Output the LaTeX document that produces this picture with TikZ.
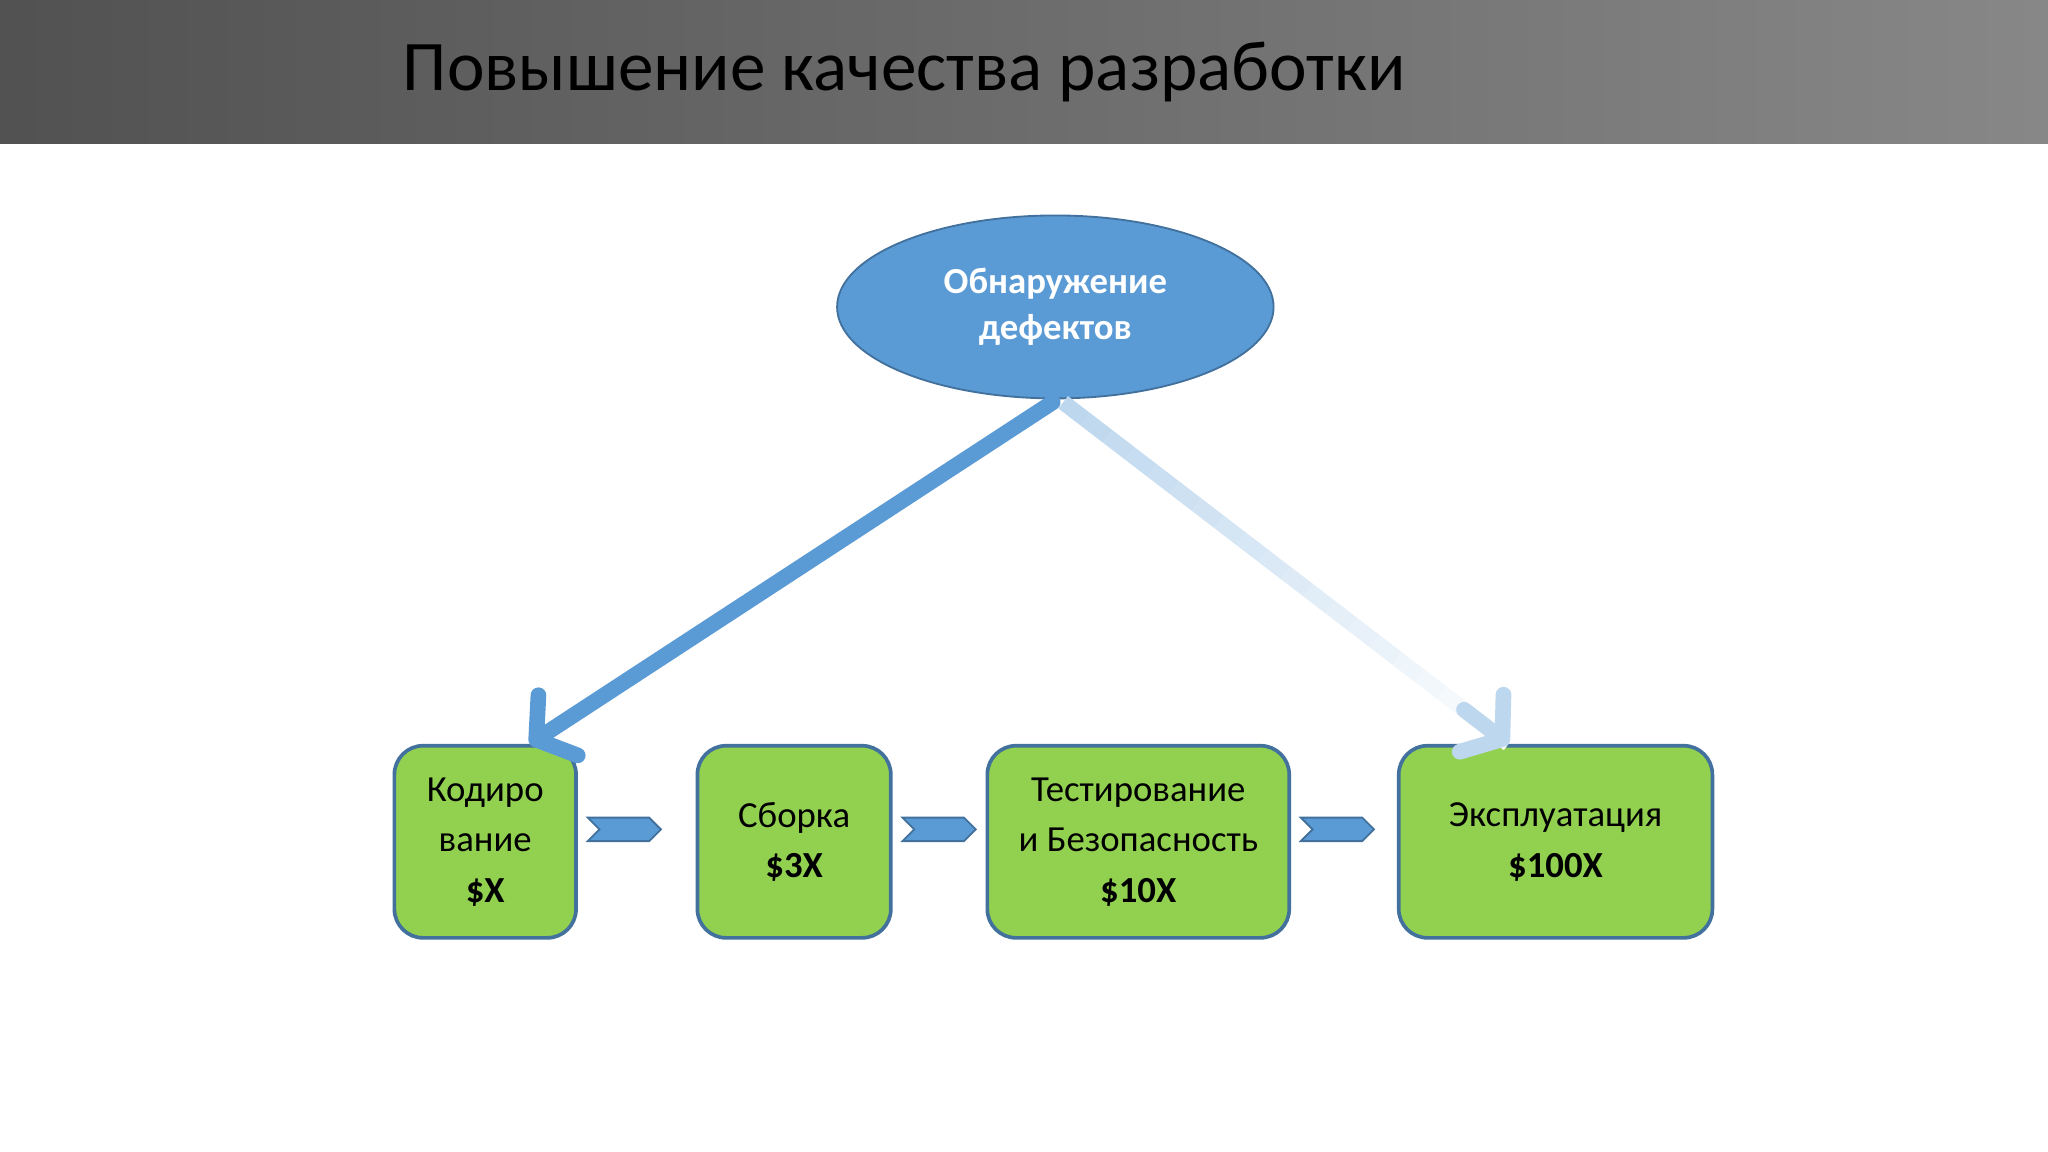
\documentclass[tikz,border=0pt]{standalone}
\usepackage{fontspec}
\setmainfont{Carlito}
\usetikzlibrary{arrows.meta,calc,positioning,shapes.symbols,shapes.geometric}
\definecolor{bluefill}{HTML}{5B9BD5}
\definecolor{blueline}{HTML}{41719C}
\definecolor{greenfill}{HTML}{92D050}
\definecolor{lightblue}{HTML}{BDD7EE}
\tikzset{
    stage/.style={draw=blueline, fill=greenfill, rounded corners=0.22cm, line width=0.8pt,
        minimum height=1.47cm, align=center, font=\fontsize{8}{11}\selectfont, inner sep=1pt},
    chev/.style={signal, signal from=west, signal to=east, draw=blueline, fill=bluefill,
        minimum width=0.56cm, minimum height=0.18cm, inner sep=0pt, line width=0.4pt},
    bigarrow/.style={line width=0.12cm, line cap=round,
        -{Straight Barb[length=0.2cm, width=0.55cm, round]}}
}
\begin{document}
\begin{tikzpicture}[x=0.01cm,y=-0.01cm]
    \useasboundingbox (0,0) rectangle (1568,882);
    \fill[white] (0,0) rectangle (1568,882);
    % title bar
    \shade[left color=black!68, right color=black!47] (0,0) rectangle (1568,110);
    \node[anchor=west, font=\fontsize{15.5}{18}\selectfont] (title) at (296,55)
        {Повышение качества разработки};
    % defect ellipse
    \node[ellipse, draw=blueline, fill=bluefill, minimum width=3.34cm, minimum height=1.4cm,
        text=white, align=center, font=\bfseries\fontsize{8}{10}\selectfont] (defect) at (808,235)
        {Обнаружение\\дефектов};
    % stages
    \node[stage, minimum width=1.39cm] (code) at (371.5,644.5) {Кодиро\\вание\\\textbf{\$X}};
    \node[stage, minimum width=1.48cm] (build) at (608,644.5) {Сборка\\\textbf{\$3X}};
    \node[stage, minimum width=2.31cm] (test) at (871.5,644.5) {Тестирование\\и Безопасность\\\textbf{\$10X}};
    \node[stage, minimum width=2.40cm] (ops) at (1191,644.5) {Эксплуатация\\\textbf{\$100X}};
    % chevrons
    \node[chev] (c1) at (478,635) {};
    \node[chev] (c2) at (719,635) {};
    \node[chev] (c3) at (1024,635) {};
    % big arrows
    \coordinate (ls) at (806,308);
    \coordinate (le) at ($(code.north)+(34,0)$);
    \coordinate (rs) at (814,308);
    \coordinate (re) at ($(ops.north)+(-36,0)$);
    \draw[bigarrow, color=bluefill] (ls) -- (le);
    \foreach \i in {0,...,19}
    {
    \pgfmathsetmacro{\pa}{\i/20}
    \pgfmathsetmacro{\pb}{(\i+1)/20}
    \pgfmathsetmacro{\mx}{100-\i*5}
    \draw[line width=0.12cm, color=lightblue!\mx!white] ($(rs)!\pa!(re)$) -- ($(rs)!\pb!(re)$);
    }
    \draw[bigarrow, color=lightblue] ($(rs)!0.9!(re)$) -- (re);
\end{tikzpicture}
\end{document}
